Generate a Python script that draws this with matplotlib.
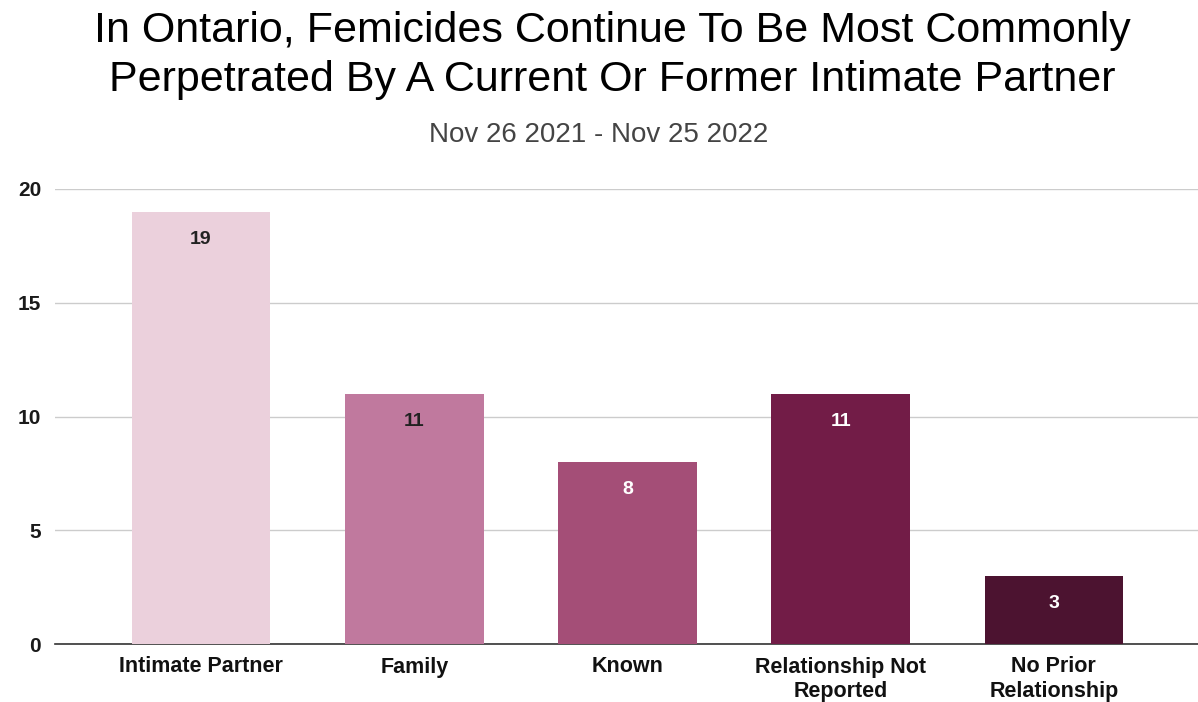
import matplotlib.pyplot as plt

categories = ["Intimate Partner", "Family", "Known", "Relationship Not\nReported", "No Prior\nRelationship"]
counts = [19, 11, 8, 11, 3]
bar_colors = ["#EBD0DC", "#C0799E", "#A44E77", "#721C47", "#4C1330"]
label_colors = ["#222222", "#222222", "#ffffff", "#ffffff", "#ffffff"]
yticks = [0, 5, 10, 15, 20]

plt.rcParams['font.family'] = ['Liberation Sans', 'DejaVu Sans']

fig = plt.figure(figsize=(11.98, 7.02), dpi=100)
ax = fig.add_axes([55 / 1198, 58 / 702, 1143 / 1198, 455 / 702])

x = list(range(len(categories)))
bars = ax.bar(x, counts, width=0.65, color=bar_colors, zorder=3)

# value labels sit just inside the top of each bar
for b, v, c in zip(bars, counts, label_colors):
    ax.text(b.get_x() + b.get_width() / 2, v - 0.85, str(v), ha="center", va="top",
            fontsize=14, fontweight="bold", color=c, zorder=4)

ax.set_xlim(-0.685, 4.676)
ax.set_ylim(0, 20)
ax.set_yticks(yticks)
ax.set_yticklabels([str(t) for t in yticks], fontsize=15, fontweight="bold", color="#1a1a1a")
ax.set_xticks(x)
ax.set_xticklabels(categories, fontsize=15.5, fontweight="bold", color="#111111", linespacing=1.25)
for lbl in ax.get_xticklabels():
    lbl.set_verticalalignment("top")

ax.yaxis.grid(True, color="#cccccc", linewidth=1)
ax.set_axisbelow(True)
for s in ["top", "right", "left"]:
    ax.spines[s].set_visible(False)
ax.spines["bottom"].set_color("#333333")
ax.spines["bottom"].set_linewidth(1.2)
ax.tick_params(axis="both", length=0)
ax.tick_params(axis="y", pad=10)
ax.tick_params(axis="x", pad=9)

# two-line title, then the date range
title_x = 612 / 1198
fig.text(title_x, 1 - 42 / 702, "In Ontario, Femicides Continue To Be Most Commonly",
         ha="center", va="baseline", fontsize=31, color="#000000")
fig.text(title_x, 1 - 91 / 702, "Perpetrated By A Current Or Former Intimate Partner",
         ha="center", va="baseline", fontsize=31, color="#000000")
fig.text(0.5, 1 - 135 / 702, "Nov 26 2021 - Nov 25 2022", ha="center", va="center",
         fontsize=20, color="#444444")

fig.savefig("out.png", dpi=100)
